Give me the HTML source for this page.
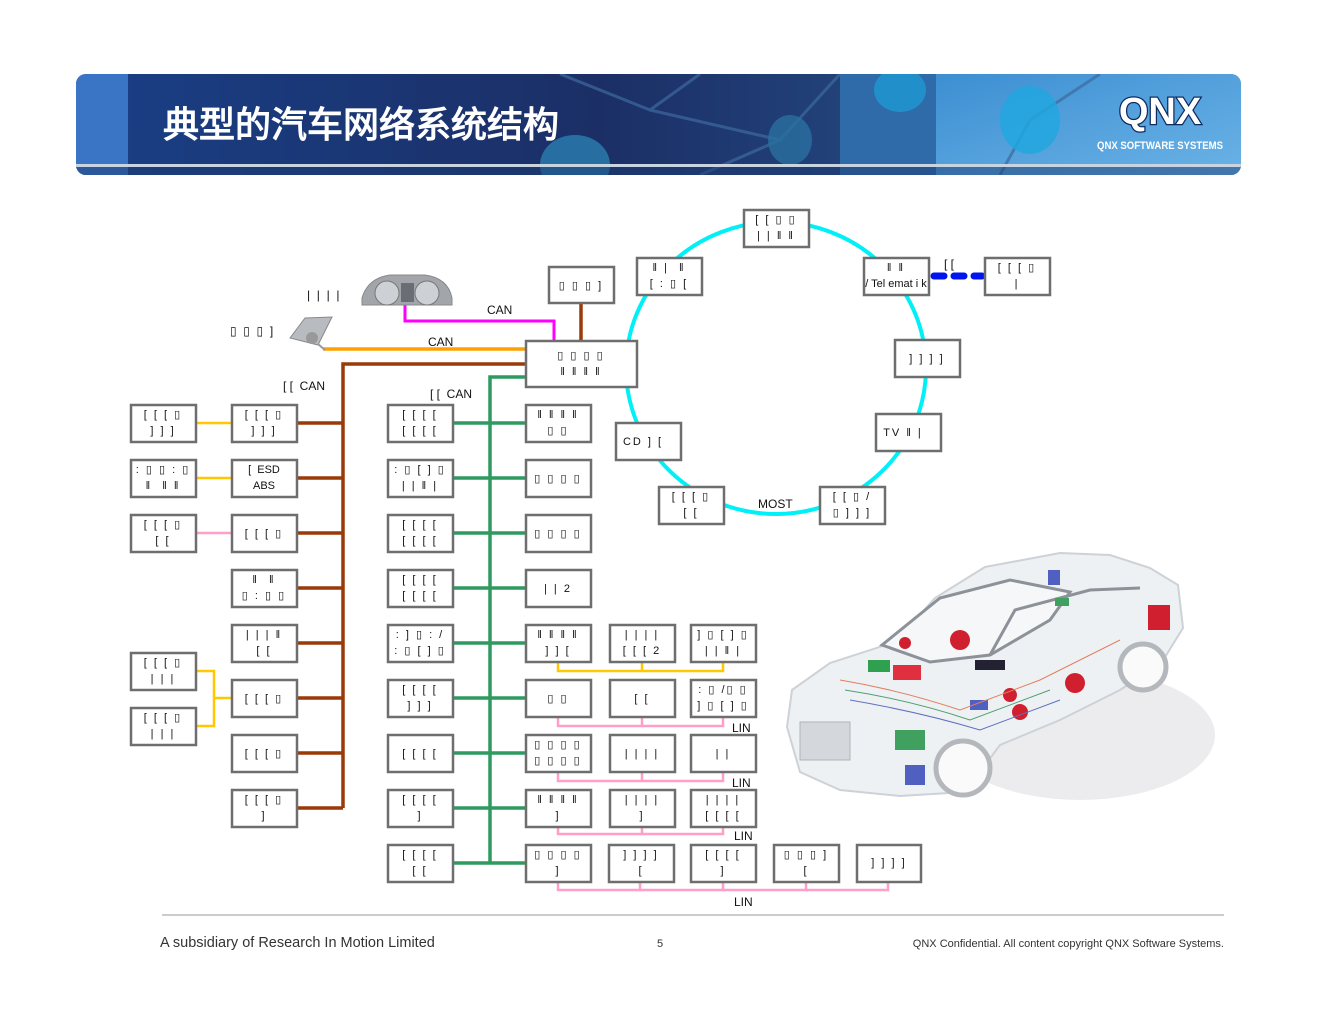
<!DOCTYPE html>
<html><head><meta charset="utf-8"><style>
html,body{margin:0;padding:0;background:#fff;}
svg{display:block;}
text{font-family:"Liberation Sans",sans-serif;}
.b{fill:#fff;stroke:#6e6e6e;stroke-width:2.5;}
.t{font-size:11px;fill:#111;text-anchor:middle;letter-spacing:2px;}
.l{font-size:12px;fill:#111;}
</style></head><body>
<svg width="1320" height="1020" viewBox="0 0 1320 1020" xmlns="http://www.w3.org/2000/svg">
<defs>
<linearGradient id="hg" x1="0" y1="0" x2="1" y2="0">
<stop offset="0" stop-color="#1a3f86"/><stop offset="0.45" stop-color="#1b2f66"/><stop offset="0.66" stop-color="#22427a"/><stop offset="0.67" stop-color="#2c6aa8"/><stop offset="1" stop-color="#3c8ed0"/>
</linearGradient>
<linearGradient id="rg" x1="0" y1="0" x2="1" y2="1">
<stop offset="0" stop-color="#3d8fd2"/><stop offset="1" stop-color="#6ab2e6"/>
</linearGradient>
<clipPath id="hc"><rect x="76" y="74" width="1165" height="101" rx="10"/></clipPath>
</defs>
<!-- header -->
<g clip-path="url(#hc)">
<rect x="76" y="74" width="1165" height="101" fill="url(#hg)"/>
<rect x="76" y="74" width="52" height="101" fill="#3a74c4"/>
<rect x="840" y="74" width="96" height="101" fill="#2e6ba8"/>
<rect x="936" y="74" width="305" height="101" fill="url(#rg)"/>
<g stroke="#3d6aa0" stroke-width="3" fill="none" opacity="0.7">
<path d="M560 74 L650 110 L700 74 M650 110 L780 140 L840 74 M780 140 L700 175 M1000 175 L1030 120 L1100 74"/>
</g>
<ellipse cx="575" cy="165" rx="35" ry="30" fill="#2a7fb0" opacity="0.8"/>
<ellipse cx="790" cy="140" rx="22" ry="25" fill="#2a6fa0" opacity="0.8"/>
<ellipse cx="1030" cy="120" rx="30" ry="34" fill="#1fa8e0" opacity="0.8"/>
<ellipse cx="900" cy="90" rx="26" ry="22" fill="#1c9fd8" opacity="0.7"/>
<rect x="76" y="164" width="1165" height="3" fill="#c8d4e0"/>
<rect x="76" y="167" width="1165" height="8" fill="#1e3b72" opacity="0.5"/>
</g>
<text x="163" y="137" font-family="'Noto Sans CJK SC',sans-serif" font-size="36" font-weight="bold" fill="#fff">典型的汽车网络系统结构</text>
<text x="1160" y="124" font-family="'Liberation Sans',sans-serif" font-size="38" font-weight="bold" fill="#fff" text-anchor="middle" stroke="#0e2a60" stroke-width="2.5" paint-order="stroke">QNX</text>
<text x="1160" y="149" font-size="11" font-weight="bold" fill="#fff" text-anchor="middle" textLength="126" lengthAdjust="spacingAndGlyphs">QNX SOFTWARE SYSTEMS</text>

<!-- ring -->
<ellipse cx="776" cy="368" rx="150" ry="146" fill="none" stroke="#00f0f8" stroke-width="4"/>
<line x1="934" y1="276" x2="982" y2="276" stroke="#0014f0" stroke-width="7" stroke-dasharray="10,10" stroke-linecap="round"/>
<text x="944" y="268" class="l">[ [</text>
<text x="758" y="508" class="l" font-size="13">MOST</text>

<!-- connectors gateway -->
<polyline points="405,305 405,321 554,321 554,341" fill="none" stroke="#ff00ff" stroke-width="3"/>
<line x1="323" y1="349" x2="526" y2="349" stroke="#ffa000" stroke-width="3.5"/>
<polyline points="526,364 343,364 343,808" fill="none" stroke="#9a3a08" stroke-width="3.5"/>
<line x1="581" y1="303" x2="581" y2="341" stroke="#9a3a08" stroke-width="3.5"/>
<polyline points="526,377 490,377 490,862" fill="none" stroke="#2e9a60" stroke-width="3.5"/>
<text x="487" y="314" class="l" font-size="13">CAN</text>
<text x="428" y="346" class="l" font-size="13">CAN</text>
<text x="283" y="390" class="l" font-size="13">[ [ &#160;CAN</text>
<text x="430" y="398" class="l" font-size="13">[ [ &#160;CAN</text>
<text x="307" y="299" class="l">| &#160;| &#160;| &#160;|</text>
<text x="230" y="335" class="l">▯ &#160;▯ &#160;▯ &#160;]</text>

<!-- instrument cluster -->
<path d="M362 298 Q368 278 390 275 L425 275 Q448 278 452 298 L452 305 L362 305 Z" fill="#a2a6aa" stroke="#888"/>
<circle cx="387" cy="293" r="12" fill="#cdd0d4" stroke="#777"/>
<circle cx="427" cy="293" r="12" fill="#cdd0d4" stroke="#777"/>
<rect x="401" y="283" width="13" height="19" fill="#6a6e74"/>
<!-- mirror -->
<polygon points="290,338 305,318 332,317 318,345" fill="#b8bcc0" stroke="#888"/>
<circle cx="312" cy="338" r="6" fill="#999"/>
<line x1="318" y1="344" x2="325" y2="350" stroke="#999" stroke-width="2"/>

<!-- left brown branch connectors -->
<g stroke="#9a3a08" stroke-width="3.5">
<line x1="297" y1="423" x2="343" y2="423"/><line x1="297" y1="478" x2="343" y2="478"/>
<line x1="297" y1="533" x2="343" y2="533"/><line x1="297" y1="588" x2="343" y2="588"/>
<line x1="297" y1="643" x2="343" y2="643"/><line x1="297" y1="698" x2="343" y2="698"/>
<line x1="297" y1="753" x2="343" y2="753"/><line x1="297" y1="808" x2="343" y2="808"/>
</g>
<g stroke="#ffc800" stroke-width="2.5" fill="none">
<line x1="196" y1="423" x2="232" y2="423"/><line x1="196" y1="478" x2="232" y2="478"/>
<polyline points="196,671 214,671 214,726 196,726"/><line x1="214" y1="698" x2="232" y2="698"/>
</g>
<line x1="196" y1="533" x2="232" y2="533" stroke="#ff9ec8" stroke-width="2.5"/>
<!-- green branch connectors -->
<g stroke="#2e9a60" stroke-width="3.5">
<line x1="453" y1="423" x2="526" y2="423"/><line x1="453" y1="478" x2="526" y2="478"/>
<line x1="453" y1="533" x2="526" y2="533"/><line x1="453" y1="588" x2="526" y2="588"/>
<line x1="453" y1="643" x2="526" y2="643"/><line x1="453" y1="698" x2="526" y2="698"/>
<line x1="453" y1="753" x2="526" y2="753"/><line x1="453" y1="808" x2="526" y2="808"/>
<line x1="453" y1="863" x2="526" y2="863"/>
</g>
<!-- sub buses -->
<polyline points="558,662 558,671 723,671 723,662" fill="none" stroke="#ffc800" stroke-width="2.5"/>
<line x1="642" y1="662" x2="642" y2="671" stroke="#ffc800" stroke-width="2.5"/>
<g stroke="#ff9ec8" stroke-width="2.5" fill="none">
<polyline points="558,717 558,726 723,726 723,717"/><line x1="642" y1="717" x2="642" y2="726"/>
<polyline points="558,772 558,781 723,781 723,772"/><line x1="642" y1="772" x2="642" y2="781"/>
<polyline points="558,827 558,834 723,834 723,827"/><line x1="642" y1="827" x2="642" y2="834"/>
<polyline points="558,882 558,890 888,890 888,882"/><line x1="640" y1="882" x2="640" y2="890"/><line x1="723" y1="882" x2="723" y2="890"/><line x1="806" y1="882" x2="806" y2="890"/>
</g>
<text x="732" y="732" class="l" font-size="13">LIN</text>
<text x="732" y="787" class="l" font-size="13">LIN</text>
<text x="734" y="840" class="l" font-size="13">LIN</text>
<text x="734" y="906" class="l" font-size="13">LIN</text>

<!-- boxes -->
<g>
<rect class="b" x="131" y="405" width="65" height="37"/><text class="t" x="163" y="418">[ [ [ ▯</text><text class="t" x="163" y="434">] ] ]</text>
<rect class="b" x="131" y="460" width="65" height="37"/><text class="t" x="163" y="473">: ▯ ▯ : ▯</text><text class="t" x="163" y="489">‖ &#160;‖ ‖</text>
<rect class="b" x="131" y="515" width="65" height="37"/><text class="t" x="163" y="528">[ [ [ ▯</text><text class="t" x="163" y="544">[ [</text>
<rect class="b" x="131" y="653" width="65" height="37"/><text class="t" x="163" y="666">[ [ [ ▯</text><text class="t" x="163" y="682">| | |</text>
<rect class="b" x="131" y="708" width="65" height="37"/><text class="t" x="163" y="721">[ [ [ ▯</text><text class="t" x="163" y="737">| | |</text>

<rect class="b" x="232" y="405" width="65" height="37"/><text class="t" x="264" y="418">[ [ [ ▯</text><text class="t" x="264" y="434">] ] ]</text>
<rect class="b" x="232" y="460" width="65" height="37"/><text class="t" x="264" y="473" style="letter-spacing:0">[ &#160;ESD</text><text class="t" x="264" y="489" style="letter-spacing:0">ABS</text>
<rect class="b" x="232" y="515" width="65" height="37"/><text class="t" x="264" y="537">[ [ [ ▯</text>
<rect class="b" x="232" y="570" width="65" height="37"/><text class="t" x="264" y="583">‖ &#160;‖</text><text class="t" x="264" y="599">▯ : ▯ ▯</text>
<rect class="b" x="232" y="625" width="65" height="37"/><text class="t" x="264" y="638">| | | ‖</text><text class="t" x="264" y="654">[ [</text>
<rect class="b" x="232" y="680" width="65" height="37"/><text class="t" x="264" y="702">[ [ [ ▯</text>
<rect class="b" x="232" y="735" width="65" height="37"/><text class="t" x="264" y="757">[ [ [ ▯</text>
<rect class="b" x="232" y="790" width="65" height="37"/><text class="t" x="264" y="803">[ [ [ ▯</text><text class="t" x="264" y="819">]</text>

<rect class="b" x="388" y="405" width="65" height="37"/><text class="t" x="420" y="418">[ [ [ [</text><text class="t" x="420" y="434">[ [ [ [</text>
<rect class="b" x="388" y="460" width="65" height="37"/><text class="t" x="420" y="473">: ▯ [ ] ▯</text><text class="t" x="420" y="489">| | ‖ |</text>
<rect class="b" x="388" y="515" width="65" height="37"/><text class="t" x="420" y="528">[ [ [ [</text><text class="t" x="420" y="544">[ [ [ [</text>
<rect class="b" x="388" y="570" width="65" height="37"/><text class="t" x="420" y="583">[ [ [ [</text><text class="t" x="420" y="599">[ [ [ [</text>
<rect class="b" x="388" y="625" width="65" height="37"/><text class="t" x="420" y="638">: ] ▯ : /</text><text class="t" x="420" y="654">: ▯ [ ] ▯</text>
<rect class="b" x="388" y="680" width="65" height="37"/><text class="t" x="420" y="693">[ [ [ [</text><text class="t" x="420" y="709">] ] ]</text>
<rect class="b" x="388" y="735" width="65" height="37"/><text class="t" x="420" y="757">[ [ [ [</text>
<rect class="b" x="388" y="790" width="65" height="37"/><text class="t" x="420" y="803">[ [ [ [</text><text class="t" x="420" y="819">]</text>
<rect class="b" x="388" y="845" width="65" height="37"/><text class="t" x="420" y="858">[ [ [ [</text><text class="t" x="420" y="874">[ [</text>

<rect class="b" x="526" y="405" width="65" height="37"/><text class="t" x="558" y="418">‖ ‖ ‖ ‖</text><text class="t" x="558" y="434">▯ ▯</text>
<rect class="b" x="526" y="460" width="65" height="37"/><text class="t" x="558" y="482">▯ ▯ ▯ ▯</text>
<rect class="b" x="526" y="515" width="65" height="37"/><text class="t" x="558" y="537">▯ ▯ ▯ ▯</text>
<rect class="b" x="526" y="570" width="65" height="37"/><text class="t" x="558" y="592">| | 2</text>
<rect class="b" x="526" y="625" width="65" height="37"/><text class="t" x="558" y="638">‖ ‖ ‖ ‖</text><text class="t" x="558" y="654">] ] [</text>
<rect class="b" x="526" y="680" width="65" height="37"/><text class="t" x="558" y="702">▯ ▯</text>
<rect class="b" x="526" y="735" width="65" height="37"/><text class="t" x="558" y="748">▯ ▯ ▯ ▯</text><text class="t" x="558" y="764">▯ ▯ ▯ ▯</text>
<rect class="b" x="526" y="790" width="65" height="37"/><text class="t" x="558" y="803">‖ ‖ ‖ ‖</text><text class="t" x="558" y="819">]</text>
<rect class="b" x="526" y="845" width="65" height="37"/><text class="t" x="558" y="858">▯ ▯ ▯ ▯</text><text class="t" x="558" y="874">]</text>

<rect class="b" x="610" y="625" width="65" height="37"/><text class="t" x="642" y="638">| | | |</text><text class="t" x="642" y="654">[ [ [ 2</text>
<rect class="b" x="610" y="680" width="65" height="37"/><text class="t" x="642" y="702">[ [</text>
<rect class="b" x="610" y="735" width="65" height="37"/><text class="t" x="642" y="757">| | | |</text>
<rect class="b" x="610" y="790" width="65" height="37"/><text class="t" x="642" y="803">| | | |</text><text class="t" x="642" y="819">]</text>
<rect class="b" x="609" y="845" width="65" height="37"/><text class="t" x="641" y="858">] ] ] ]</text><text class="t" x="641" y="874">[</text>

<rect class="b" x="691" y="625" width="65" height="37"/><text class="t" x="723" y="638">] ▯ [ ] ▯</text><text class="t" x="723" y="654">| | ‖ |</text>
<rect class="b" x="691" y="680" width="65" height="37"/><text class="t" x="723" y="693">: ▯ /▯ ▯</text><text class="t" x="723" y="709">] ▯ [ ] ▯</text>
<rect class="b" x="691" y="735" width="65" height="37"/><text class="t" x="723" y="757">| |</text>
<rect class="b" x="691" y="790" width="65" height="37"/><text class="t" x="723" y="803">| | | |</text><text class="t" x="723" y="819">[ [ [ [</text>
<rect class="b" x="691" y="845" width="65" height="37"/><text class="t" x="723" y="858">[ [ [ [</text><text class="t" x="723" y="874">]</text>
<rect class="b" x="774" y="845" width="65" height="37"/><text class="t" x="806" y="858">▯ ▯ ▯ ]</text><text class="t" x="806" y="874">[</text>
<rect class="b" x="857" y="845" width="64" height="37"/><text class="t" x="889" y="866">] ] ] ]</text>

<rect class="b" x="549" y="267" width="65" height="36"/><text class="t" x="581" y="289">▯ ▯ ▯ ]</text>
<rect class="b" x="526" y="341" width="111" height="46"/><text class="t" x="581" y="359">▯ ▯ ▯ ▯</text><text class="t" x="581" y="375">‖ ‖ ‖ ‖</text>

<rect class="b" x="744" y="210" width="65" height="37"/><text class="t" x="776" y="223">[ [ ▯ ▯</text><text class="t" x="776" y="239">| | ‖ ‖</text>
<rect class="b" x="637" y="258" width="65" height="37"/><text class="t" x="669" y="271">‖ | &#160;‖</text><text class="t" x="669" y="287">[ : ▯ [</text>
<rect class="b" x="864" y="258" width="65" height="37"/><text class="t" x="896" y="271">‖ ‖</text><text class="t" x="896" y="287" font-size="10" style="letter-spacing:0">/ Tel emat i k</text>
<rect class="b" x="985" y="258" width="65" height="37"/><text class="t" x="1017" y="271">[ [ [ ▯</text><text class="t" x="1017" y="287">|</text>
<rect class="b" x="895" y="340" width="65" height="37"/><text class="t" x="927" y="362">] ] ] ]</text>
<rect class="b" x="876" y="414" width="65" height="37"/><text class="t" x="903" y="436">TV ‖ |</text>
<rect class="b" x="616" y="423" width="65" height="37"/><text class="t" x="643" y="445">CD ] [</text>
<rect class="b" x="659" y="487" width="65" height="37"/><text class="t" x="691" y="500">[ [ [ ▯</text><text class="t" x="691" y="516">[ [</text>
<rect class="b" x="820" y="487" width="65" height="37"/><text class="t" x="852" y="500">[ [ ▯ /</text><text class="t" x="852" y="516">▯ ] ] ]</text>
</g>

<!-- car -->
<ellipse cx="1080" cy="735" rx="135" ry="65" fill="#ececee"/>
<polygon points="787,727 792,690 830,663 895,642 935,598 985,567 1060,553 1110,555 1150,568 1178,585 1183,628 1162,662 1120,690 1060,720 1000,745 965,792 900,796 840,790 800,772" fill="#eef1f4" stroke="#cdd2d7" stroke-width="2"/>
<polygon points="882,645 940,598 1010,580 1070,592 1050,620 990,655 930,662" fill="#f6f7f9" stroke="#8c9298" stroke-width="3"/>
<polyline points="990,655 1015,610 1090,590 1140,588" fill="none" stroke="#8c9298" stroke-width="3"/>
<rect x="800" y="722" width="50" height="38" fill="#d4d7db" stroke="#b0b4b8"/>
<circle cx="963" cy="768" r="27" fill="#fafafa" stroke="#b4b8bc" stroke-width="5"/>
<circle cx="1143" cy="667" r="23" fill="#fafafa" stroke="#b4b8bc" stroke-width="5"/>
<g>
<rect x="868" y="660" width="22" height="12" fill="#2ea050"/>
<rect x="893" y="665" width="28" height="15" fill="#e03040"/>
<circle cx="960" cy="640" r="10" fill="#d02030"/>
<circle cx="1075" cy="683" r="10" fill="#d02030"/>
<circle cx="1020" cy="712" r="8" fill="#d02030"/>
<circle cx="1010" cy="695" r="7" fill="#d02030"/>
<circle cx="905" cy="643" r="6" fill="#d02030"/>
<rect x="1148" y="605" width="22" height="25" fill="#d02030"/>
<rect x="975" y="660" width="30" height="10" fill="#223"/>
<rect x="905" y="765" width="20" height="20" fill="#5060c0"/>
<rect x="895" y="730" width="30" height="20" fill="#40a060"/>
<rect x="970" y="700" width="18" height="10" fill="#5060c0"/>
<rect x="1048" y="570" width="12" height="15" fill="#5060c0"/>
<rect x="1055" y="598" width="14" height="8" fill="#40a060"/>
</g>
<g fill="none" stroke-width="1">
<path d="M840 680 Q900 690 960 710 L1040 680 L1120 640" stroke="#e08060"/>
<path d="M845 690 Q910 700 970 720 L1050 690" stroke="#50a070"/>
<path d="M850 700 Q920 712 980 730 L1060 700" stroke="#6070c0"/>
</g>

<!-- footer -->
<line x1="162" y1="915" x2="1224" y2="915" stroke="#bbb" stroke-width="1.5"/>
<text x="160" y="947" font-size="14.5" fill="#333">A subsidiary of Research In Motion Limited</text>
<text x="660" y="947" font-size="11" fill="#333" text-anchor="middle">5</text>
<text x="1224" y="947" font-size="11" fill="#333" text-anchor="end">QNX Confidential. All content copyright QNX Software Systems.</text>
</svg>
</body></html>
